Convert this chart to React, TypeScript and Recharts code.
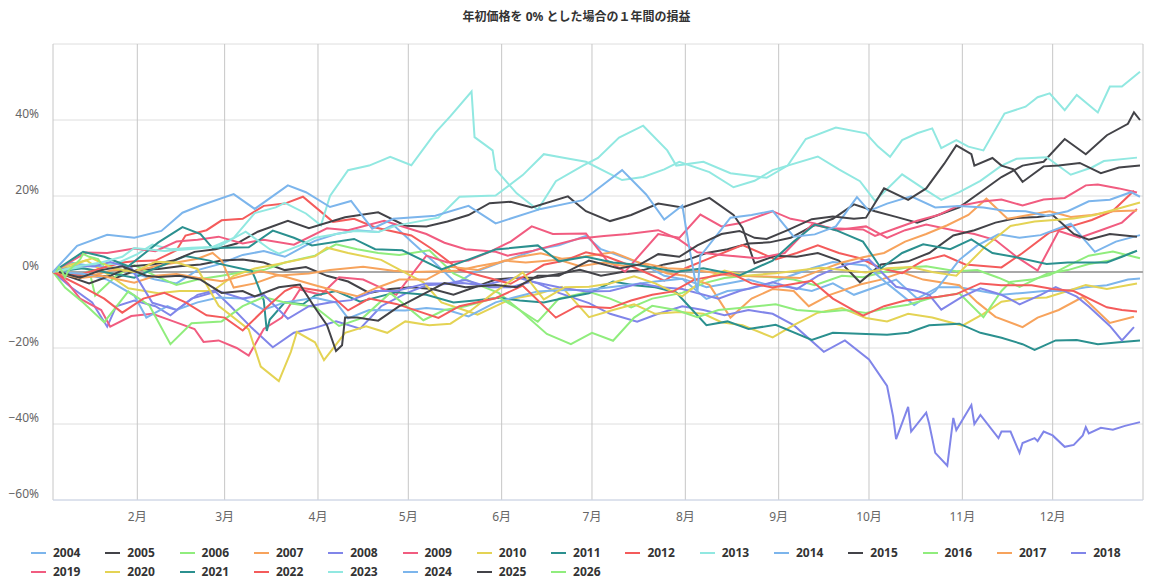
import React from 'react';
import { LineChart, Line, XAxis, YAxis, CartesianGrid, ReferenceLine } from 'recharts';

const title = '年初価格を 0% とした場合の１年間の損益';
const monthTicks = [31, 60, 91, 121, 152, 182, 213, 244, 274, 305, 335];
const monthLabels = ['2月', '3月', '4月', '5月', '6月', '7月', '8月', '9月', '10月', '11月', '12月'];
const yTicks = [-60, -40, -20, 0, 20, 40, 60];
const years = ['2004', '2005', '2006', '2007', '2008', '2009', '2010', '2011', '2012', '2013', '2014', '2015', '2016', '2017', '2018', '2019', '2020', '2021', '2022', '2023', '2024', '2025', '2026'];
const palette = ['#7cb5ec', '#434348', '#90ed7d', '#f7a35c', '#8085e9', '#f15c80', '#e4d354', '#2b908f', '#f45b5b', '#91e8e1'];

// [day of year, % change from first price]
const y2004 = [[4,0],[9,2.5],[16,1.5],[23,1.2],[30,-0.4],[37,-2],[44,-3],[51,0.5],[58,2],[66,4.5],[73,5.5],[80,4],[87,7],[90,8.2],[97,10],[104,11],[111,10.5],[116,12.4],[122,8],[129,3],[137,-3],[143,0],[150,2],[157,4],[164,6],[171,7],[180,9.5],[185,6],[192,4],[199,2],[206,-1],[213,-2],[220,-4],[227,-3],[234,-2],[241,-3.5],[248,-4],[255,-5],[262,-3],[269,-6],[276,-4],[283,-2],[290,-7],[297,-4],[304,-4],[311,-5],[318,-6],[325,-5.5],[332,-5],[339,-5],[346,-4],[353,-3.5],[360,-2],[364,-1.7]];
const y2005 = [[3,0],[10,-1.2],[17,-0.8],[24,-1.5],[31,0.5],[38,0.8],[45,1.5],[52,2],[59,3],[66,3.3],[73,2.5],[80,0.5],[87,1.3],[94,-1],[101,-2.5],[108,-5.5],[115,-4.5],[122,-4],[129,-4.5],[136,-6],[143,-4],[150,-2],[157,-1.5],[164,-1.5],[171,-0.5],[178,0.6],[185,-1],[192,0],[199,0.5],[206,2],[213,3],[220,5],[227,6],[234,7.5],[241,7.8],[248,9],[255,12],[262,14],[269,17.8],[276,16],[283,14.5],[290,13],[297,15],[304,17],[311,21],[318,25],[325,28],[332,29],[339,35],[346,31],[353,36],[360,39],[362,42],[364,40]];
const y2006 = [[3,0],[10,1.5],[15,0.6],[17,-6.2],[24,-1],[30,1.8],[37,-1],[44,-3.4],[51,-2],[59,-1],[66,0],[73,0.5],[80,2.5],[90,4.3],[97,7.3],[104,6],[111,5],[118,4.5],[128,5.7],[136,-0.4],[143,-3],[151,-5.5],[158,-10],[164,-13.1],[171,-7],[181,-5.2],[188,-7],[195,-9.3],[202,-7],[212,-5.5],[219,-3],[226,-1.6],[233,-1],[242,-1.4],[249,-2],[256,-3.5],[265,-1],[272,-1.4],[279,0],[286,1.1],[293,1.5],[303,0.2],[310,0.5],[317,-1.5],[324,-3.9],[333,-0.5],[340,0.5],[347,2.1],[354,3],[362,5.3]];
const y2007 = [[3,0],[10,-0.5],[16,-0.9],[23,0.5],[30,0.2],[37,1.5],[44,2.5],[51,3.5],[56,5],[59,3],[63,-4.1],[70,-3],[77,-1],[88,-0.4],[95,0.5],[106,1.4],[116,0.3],[123,0],[137,0.3],[144,1.5],[151,2.5],[158,4],[165,4.9],[172,3.5],[179,4],[189,5.2],[196,3],[207,-0.4],[213,-1],[221,-3.4],[228,-12],[235,-7],[242,-4.5],[249,-5],[254,-9],[261,-6],[271,-3.3],[278,-2],[285,-0.1],[292,-2],[304,-3.5],[310,-8],[316,-11.8],[325,-14.5],[330,-12],[337,-10],[345,-6.6],[354,-13.4],[362,-11.8]];
const y2008 = [[3,0],[9,-4],[16,-8],[21,-14.4],[24,-9],[30,-7.5],[37,-9],[42,-11.4],[49,-7],[57,-5.2],[62,-9],[69,-14.7],[76,-19.8],[83,-16],[90,-14.7],[97,-13],[105,-14.9],[112,-9],[120,-5.7],[127,-3.5],[139,-2.9],[146,-3.5],[157,-1.4],[164,-3],[171,-5.5],[181,-8.2],[188,-11],[197,-13.1],[204,-11],[212,-9],[219,-10],[226,-11.4],[234,-10],[242,-11],[249,-14],[259,-21],[266,-18],[274,-23],[280,-30],[282,-38],[283,-44],[287,-35.5],[288,-42],[293,-37],[294,-40],[296,-47.6],[300,-51],[302,-38.4],[303,-41.6],[308,-35],[309,-40],[311,-37.6],[317,-43.7],[318,-42],[321,-42],[324,-47.6],[325,-45],[329,-43.7],[330,-44.5],[332,-42],[335,-43],[339,-46],[342,-45.5],[345,-43],[346,-40.8],[347,-42.5],[351,-41],[355,-41.5],[359,-40.5],[364,-39.5]];
const y2009 = [[4,0],[8,-3],[12,-7],[19,-10],[22,-14.4],[29,-11.6],[36,-11],[43,-13],[50,-15],[53,-18.4],[58,-18],[64,-20],[68,-22],[73,-15],[79,-12],[85,-4.6],[92,-6],[98,-1.4],[106,-2],[117,-6],[127,4.3],[134,2.5],[141,3],[148,5.3],[155,8],[162,12],[169,10],[180,10.1],[187,3],[193,0.1],[204,10],[211,9],[218,15.1],[225,12],[231,12.8],[242,16],[248,14],[256,12.8],[263,11],[273,12],[280,9],[286,11],[293,12.5],[302,11],[309,10],[316,8.4],[323,4],[330,0.4],[337,10.8],[344,9],[351,11],[358,13],[363,16.6]];
const y2010 = [[3,0],[9,2],[14,3.1],[21,-0.5],[28,-4.3],[38,-5.6],[45,-5],[56,-5],[63,-1],[70,0.9],[77,2],[90,4.1],[94,6.4],[101,5],[112,3.2],[126,-2.7],[132,-8],[144,-11.2],[150,-9],[155,-7.1],[163,-6],[172,-3.9],[181,-11.9],[189,-10],[196,-8.5],[203,-11],[211,-10.5],[219,-11],[225,-13.2],[232,-14],[242,-17.2],[249,-14],[257,-10.7],[265,-9.5],[273,-12.1],[280,-13],[287,-11],[295,-12],[305,-14.1],[312,-11],[318,-7.8],[325,-7],[333,-6.7],[340,-5],[346,-3.4],[353,-4.5],[363,-3]];
const y2011 = [[3,0],[13,1],[20,0],[30,-1.5],[37,1],[47,4.2],[55,3],[58,2.2],[65,1],[69,0.3],[70,-1.4],[73,-7.5],[74,-15.5],[75,-12.5],[80,-8],[86,-8.5],[90,-6.2],[97,-5],[105,-7.8],[117,-5.3],[127,-6],[136,-8],[143,-7.5],[151,-6.8],[158,-7.5],[166,-8],[172,-7],[181,-5.6],[189,-2.5],[196,-3.5],[203,-4],[210,-5.4],[220,-14],[227,-13],[234,-15],[243,-13.9],[255,-17.9],[262,-16],[273,-16.3],[280,-16.5],[287,-16],[294,-14],[304,-13.6],[311,-16],[318,-17.3],[325,-19],[329,-20.5],[336,-18],[343,-17.9],[350,-19],[357,-18.5],[364,-18]];
const y2012 = [[3,0],[12,-0.7],[19,1],[26,2.5],[30,2.8],[37,3],[44,5.7],[47,9.6],[54,11],[59,13.6],[66,14],[73,17.4],[80,18],[86,19.8],[96,13.2],[103,14],[110,11.7],[122,9.6],[129,6],[138,0.6],[145,-1],[155,-3.1],[162,0],[166,1.9],[173,3],[180,5.2],[187,4],[194,1.9],[206,-2.3],[213,1],[222,3.9],[232,7.1],[243,3.3],[250,5],[257,7],[264,5],[271,3.6],[278,1],[285,-0.3],[292,3],[299,4.4],[306,2],[318,1.2],[325,5],[334,10.4],[341,12],[348,13.7],[355,16.1],[362,21.4]];
const y2013 = [[3,0],[10,1],[17,2],[24,2.2],[31,4.7],[36,7.2],[42,6],[49,6.4],[56,6.6],[63,9],[70,15.5],[77,17],[80,18.2],[87,15.4],[92,12.3],[95,20],[101,26.8],[108,28],[115,30.3],[122,28.1],[130,36.7],[135,41],[142,47.5],[143,35.5],[149,32],[150,27],[157,20.7],[164,16.4],[170,23.9],[179,28],[184,30],[191,35.4],[199,38.5],[207,32],[210,28],[219,29],[228,26],[240,24.8],[247,28],[253,35],[263,38],[273,36.5],[277,33],[281,30.3],[285,34.7],[290,36.5],[295,37.8],[298,32.6],[303,34.7],[307,33],[312,32],[319,41.7],[326,43.5],[330,46],[334,47],[339,42.6],[343,46.6],[350,42],[354,48.8],[358,48.8],[364,52.7]];
const y2014 = [[5,0],[14,-0.6],[21,-2],[30,-6.2],[34,-12],[41,-9],[44,-10],[51,-8],[58,-6.7],[66,-7],[73,-9.9],[80,-8],[90,-6.8],[97,-8],[101,-12.2],[108,-10],[120,-10.1],[127,-9.5],[134,-10],[141,-11.7],[150,-8],[157,-6.5],[164,-5.1],[171,-4.8],[181,-4.7],[188,-4],[196,-3.2],[203,-2.5],[212,-1.8],[220,-7.1],[227,-5],[234,-4.5],[241,-3],[248,-1],[255,1],[262,2.6],[273,1.7],[280,-3],[289,-8.7],[296,-5],[304,3.2],[310,7],[317,9.9],[324,9],[331,9.7],[341,12.7],[349,5.3],[356,8],[364,9.7]];
const y2015 = [[4,0],[15,-3],[22,-1],[29,1.5],[36,2],[43,3],[50,5.3],[57,6],[64,7.5],[71,10.6],[81,13.5],[88,11.5],[100,14.4],[111,15.7],[120,12.2],[127,12],[134,13.3],[141,15],[148,18.1],[155,18.5],[162,17],[174,19.9],[180,16],[188,13.4],[195,15],[204,18],[212,17],[221,19.5],[229,15],[232,11.6],[236,2.3],[243,4.3],[250,4],[257,5],[264,3],[271,-2.7],[278,2],[287,2.8],[294,5],[302,9.6],[309,11],[316,13],[323,14.2],[330,14.5],[335,15],[342,10],[347,8.5],[354,10],[363,9.3]];
const y2016 = [[3,0],[7,-4.1],[13,-8],[20,-13.2],[28,-5.1],[35,-8.8],[42,-19],[49,-13.5],[59,-13],[66,-9],[73,-6.6],[80,-8],[90,-9.2],[98,-14.2],[106,-12],[115,-5.5],[126,-12.7],[133,-10],[140,-9],[151,-6.6],[158,-10],[167,-16.3],[175,-19],[182,-16],[189,-18.1],[196,-12],[202,-8.9],[210,-10],[217,-11.9],[224,-10],[231,-9.5],[243,-8.5],[250,-10],[259,-10.5],[266,-10],[273,-10.8],[280,-9.5],[287,-8.6],[294,-7],[304,-5.6],[312,-11.9],[318,-5],[321,-2.6],[328,-2],[334,-0.8],[341,2],[347,4.3],[355,5.4],[364,3.6]];
const y2017 = [[3,0],[12,-1.6],[19,-1],[30,-2.8],[37,-1],[44,-0.5],[51,-1.5],[59,-2.4],[72,0.2],[79,-1],[90,-3.5],[97,-5],[104,-6.4],[111,-4],[118,-2],[127,-2],[135,1.4],[144,0.5],[153,3],[160,2.5],[171,3.2],[178,1.5],[186,2.5],[193,1.5],[200,2.2],[207,1],[214,0.7],[221,0],[228,-1],[240,-1.2],[251,-1.6],[258,0.5],[265,2.5],[272,3.9],[279,5],[286,8],[293,10],[300,12.3],[307,15],[313,19.3],[320,14],[327,15],[334,16],[341,14.5],[348,15],[355,16],[363,16.2]];
const y2018 = [[3,0],[10,1.5],[17,1.5],[22,2.6],[29,1],[36,-8.1],[44,-10],[51,-6],[57,-4.8],[66,-7],[73,-6],[81,-12.3],[88,-9],[95,-8],[102,-7.4],[110,-5],[117,-5],[127,-3],[134,-3],[140,-2.1],[148,-4],[155,-4],[162,-2.5],[171,-4],[180,-5.1],[188,-5],[198,-3],[205,-4],[212,-4.5],[224,-7],[231,-5],[242,-2.7],[250,-4.5],[257,-1],[262,0.7],[267,2],[274,3.3],[283,-3.9],[290,-5],[294,-6],[298,-9.9],[305,-6.5],[311,-4.3],[318,-6],[324,-8.5],[331,-6],[336,-4],[343,-6.5],[347,-9.1],[354,-14.2],[358,-18],[362,-14.5]];
const y2019 = [[3,0],[14,5.1],[21,5],[30,6.2],[37,5.5],[44,8],[51,8.5],[58,9.3],[66,7.5],[73,8.5],[83,7.2],[94,11.5],[101,11],[113,13.5],[127,10],[133,7.7],[140,6],[150,5.3],[154,4.3],[162,5.5],[169,7],[178,8.8],[186,9.5],[194,10],[204,11],[211,8.5],[217,5.2],[225,4.5],[237,3.6],[246,5],[255,12.4],[262,11.5],[272,11.2],[276,9.5],[283,11.5],[290,13.5],[297,15],[303,17.2],[311,18.5],[318,19.1],[325,17.5],[332,19.1],[339,19.5],[346,22.8],[350,23],[357,22],[363,20.9]];
const y2020 = [[5,0],[12,2.5],[16,3.6],[23,1],[30,0],[37,2.7],[44,2.5],[51,0.8],[58,-8.9],[68,-15.1],[72,-24.9],[78,-28.7],[82,-21],[84,-15.8],[90,-18.5],[93,-23.2],[100,-16],[107,-14.3],[114,-16],[120,-13],[128,-14],[135,-13.6],[142,-10],[149,-5.7],[159,-0.1],[166,-7.2],[173,-4],[181,-3.9],[188,-3],[196,-1.1],[203,-3],[212,-6.4],[219,-2],[226,0.4],[233,-1],[243,-0.3],[258,1.1],[273,-0.1],[280,1],[288,1.3],[295,0],[303,-1],[313,7],[321,12.1],[329,13.3],[342,14.1],[349,15],[356,16.5],[364,18.3]];
const y2021 = [[3,0],[13,5.3],[20,4],[28,1.5],[38,7.8],[46,11.8],[52,10],[56,6.3],[68,6.5],[76,10.9],[83,9],[89,7],[103,8.7],[110,6],[119,5.7],[132,0.7],[140,3],[150,5.9],[164,7],[171,2.8],[180,4],[189,2.5],[196,2],[210,0.1],[219,1],[231,-0.9],[242,3],[249,8],[256,12.5],[263,11],[272,8],[278,1],[285,5],[292,7.3],[301,6],[308,8.6],[315,5],[322,4],[333,2.1],[340,2.5],[353,2.5],[358,4],[363,5.6]];
const y2022 = [[3,0],[13,-4],[20,-7],[26,-10.7],[33,-7],[40,-5.5],[47,-8],[54,-11.4],[60,-12],[66,-15.4],[73,-10],[80,-5],[83,-3.9],[94,-5.2],[101,-10.1],[108,-7],[117,-8.4],[131,-12.1],[138,-9],[150,-6.9],[159,-3.6],[170,-12],[177,-9],[188,-9.5],[195,-7.5],[202,-6],[209,-5.1],[216,-2],[228,-0.3],[235,-3],[242,-4.1],[255,-2.3],[262,-7],[272,-11.5],[279,-9],[286,-7.5],[297,-6.5],[303,-5.8],[311,-3],[318,-3.5],[328,-3.5],[335,-4.5],[342,-5],[353,-9.3],[358,-10],[363,-10.4]];
const y2023 = [[3,0],[12,1.6],[19,2.5],[26,4],[30,6.3],[40,5.5],[48,6],[58,6.7],[67,10.6],[75,6],[78,4.8],[85,7],[90,9],[103,10.8],[111,10.5],[117,12.2],[131,14.3],[138,19.8],[150,20.1],[159,25.5],[166,31],[173,30],[180,29],[192,24.2],[199,25],[206,27],[211,29],[221,26.3],[229,22.3],[236,24],[242,26.8],[257,30.4],[264,27],[271,23.9],[276,18.7],[285,25.7],[292,22],[298,19],[304,21],[311,24],[318,28],[323,29.8],[333,30.2],[341,25.6],[348,27.5],[352,29.2],[363,30.1]];
const y2024 = [[3,0],[11,6.9],[21,9.8],[30,9],[39,10.8],[46,15.6],[52,17.5],[63,20.5],[70,16.6],[81,22.8],[87,21],[95,17.1],[102,18.7],[109,11.4],[116,14],[130,14.8],[141,17.4],[150,12.8],[165,16.6],[179,18.9],[192,26.8],[200,20.4],[206,13.8],[212,17.5],[214,7.9],[217,-5.5],[218,4.2],[228,14.3],[235,15],[242,16.1],[249,9.3],[256,9.9],[263,12],[270,19.7],[274,16.1],[280,18],[288,19.9],[296,17],[304,17.4],[312,17],[319,16.1],[326,16],[333,14.8],[340,16],[347,18.6],[354,19],[361,21],[364,19.8]];
const y2025 = [[5,0],[12,-1.5],[19,0.5],[26,1.5],[34,-1],[38,-1.3],[45,-1],[52,-2],[59,-5.5],[66,-5],[70,-6.4],[78,-4],[85,-3.3],[90,-9.4],[94,-14],[97,-20.8],[99,-19.3],[100,-12],[104,-12],[111,-12.8],[118,-9],[120,-8.3],[133,-2.9],[140,-4],[150,-3.4],[157,-4],[164,-1],[171,-1],[181,3],[191,0.9],[198,2],[204,4.7],[211,4],[217,7],[225,10],[231,10.8],[236,9],[240,8.7],[247,11],[255,13.9],[262,14.6],[269,14],[273,14.3],[279,22],[287,19],[293,22],[299,28.5],[303,33.3],[308,31],[309,28],[315,30],[318,28],[322,27],[325,23.7],[332,27.8],[337,28],[344,28.7],[351,26],[357,27.5],[364,28]];
const y2026 = [[4,0],[5,1.3],[6,0.2],[7,-1.4],[8,0.2],[12,3.3],[13,4.8],[14,4.4],[15,4],[18,3.4],[19,2.2],[20,1.8]];

const seriesValues = [y2004, y2005, y2006, y2007, y2008, y2009, y2010, y2011, y2012, y2013, y2014, y2015, y2016, y2017, y2018, y2019, y2020, y2021, y2022, y2023, y2024, y2025, y2026];

const toPoints = (s: number[][]) => s.map(([d, v]) => ({ d, v }));

const FONT = '"Noto Sans", "Noto Sans CJK JP", sans-serif';

const YTick = (props: any) => {
  const { x, y, payload } = props;
  if (payload.value === 60) return null;
  return (
    <text x={x - 6} y={y - 2} textAnchor="end" fill="#666666" fontSize={12} fontFamily={FONT}>
      {payload.value < 0 ? `−${Math.abs(payload.value)}%` : `${payload.value}%`}
    </text>
  );
};

const XTick = (props: any) => {
  const { x, y, payload } = props;
  const idx = monthTicks.indexOf(payload.value);
  return (
    <text x={x} y={y + 13} textAnchor="middle" fill="#666666" fontSize={12} fontFamily={FONT}>
      {idx >= 0 ? monthLabels[idx] : ''}
    </text>
  );
};

export default function App() {
  return (
    <div style={{ position: 'absolute', left: 0, top: 0, width: 1153, height: 586, background: '#ffffff', fontFamily: FONT }}>
      <div style={{ position: 'absolute', left: 0, top: 8, width: 1153, textAlign: 'center', fontSize: 12, fontWeight: 'bold', color: '#333333', lineHeight: '18px' }}>
        {title}
      </div>
      <div style={{ position: 'absolute', left: 0, top: 0 }}>
        <LineChart width={1153} height={540} margin={{ top: 44, right: 10, left: 0, bottom: 10 }}>
          <CartesianGrid horizontal={true} vertical={false} stroke="#dedede" strokeDasharray="" />
          <CartesianGrid horizontal={false} vertical={true} stroke="#c6c6c6" strokeDasharray="" />
          <XAxis
            dataKey="d"
            type="number"
            domain={[3, 365]}
            ticks={monthTicks}
            interval={0}
            height={30}
            tickLine={false}
            axisLine={{ stroke: '#ccd6eb' }}
            tick={<XTick />}
            allowDuplicatedCategory={false}
          />
          <YAxis
            type="number"
            domain={[-60, 60]}
            ticks={yTicks}
            interval={0}
            width={53}
            tickLine={false}
            axisLine={false}
            tick={<YTick />}
          />
          <ReferenceLine y={0} stroke="#a8a8a8" strokeWidth={2} />
          {seriesValues.map((s, i) => (
            <Line
              key={years[i]}
              data={toPoints(s)}
              dataKey="v"
              name={years[i]}
              type="linear"
              stroke={palette[i % palette.length]}
              strokeWidth={2}
              dot={false}
              activeDot={false}
              isAnimationActive={false}
            />
          ))}
        </LineChart>
      </div>
      {years.map((yr, i) => {
        const row = i < 15 ? 0 : 1;
        const col = i < 15 ? i : i - 15;
        const left = 31 + col * 74.3;
        const top = row === 0 ? 544 : 563;
        return (
          <div key={yr} style={{ position: 'absolute', left, top, height: 18, display: 'flex', alignItems: 'center' }}>
            <div style={{ width: 15, height: 2, background: palette[i % palette.length], marginRight: 7 }} />
            <span style={{ fontSize: 12, fontWeight: 'bold', color: '#333333', lineHeight: '18px' }}>{yr}</span>
          </div>
        );
      })}
    </div>
  );
}
